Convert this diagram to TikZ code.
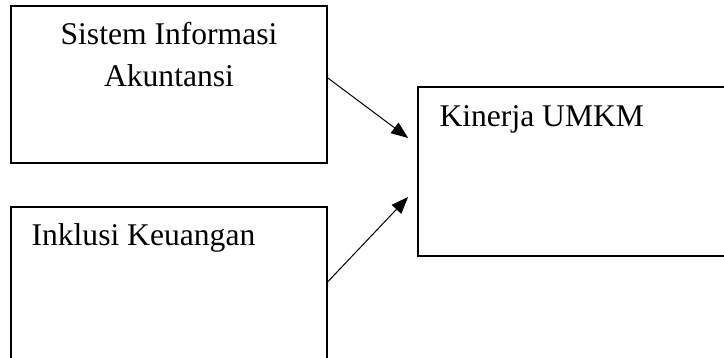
\documentclass[tikz,border=0pt]{standalone}
\usepackage{fontspec}
\setmainfont{Liberation Serif}
\usetikzlibrary{arrows.meta, positioning}

\begin{document}
\begin{tikzpicture}[
  x=0.5pt, y=-0.5pt,
  varbox/.style={draw, line width=0.85pt, minimum width=158pt, minimum height=78.5pt, inner sep=0pt},
  boxtext/.style={inner sep=0pt, font=\fontsize{15.8}{21}\selectfont},
  arr/.style={-{Triangle[length=8.5pt, width=6.5pt]}, line width=0.5pt},
  node distance=21pt
]
\clip (0,0) rectangle (724,358);

\node[varbox] (sia) at (169,84.5) {};
\node[varbox, below=of sia] (ik) {};
\node[varbox, minimum width=155pt, minimum height=84.5pt] (umkm) at (573,171.5) {};

\node[boxtext, align=center, below=8.5pt of sia.north] (sialabel) {Sistem Informasi\\Akuntansi};
\node[boxtext, anchor=base west] (iklabel) at ([xshift=10.5pt, yshift=-20pt]ik.north west) {Inklusi Keuangan};
\node[boxtext, anchor=base west] (umkmlabel) at ([xshift=11pt, yshift=-20pt]umkm.north west) {Kinerja UMKM};

\coordinate (tip1) at ([xshift=-4.5pt, yshift=16.75pt]umkm.west);
\coordinate (tip2) at ([xshift=-4.5pt, yshift=-12.75pt]umkm.west);

\draw[arr] ([yshift=3.25pt]sia.east) -- (tip1);
\draw[arr] ([yshift=1.75pt]ik.east) -- (tip2);
\end{tikzpicture}
\end{document}
